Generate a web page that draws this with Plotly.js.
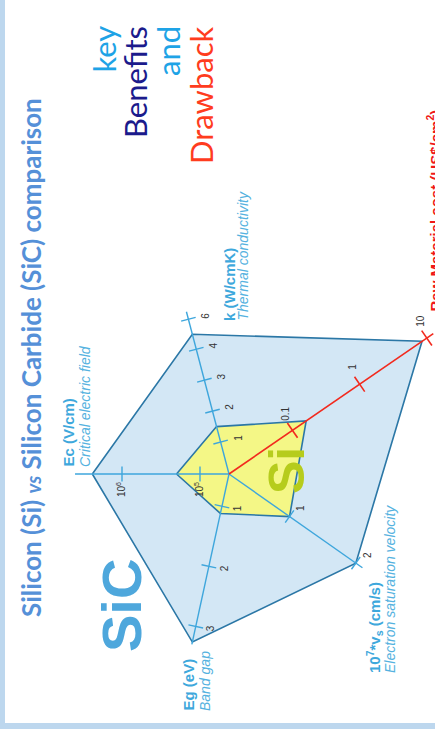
<!DOCTYPE html>
<html><head><meta charset="utf-8">
<script src="https://cdn.plot.ly/plotly-3.0.1.min.js"></script>
<style>html,body{margin:0;padding:0;background:#fff}#chart{width:435px;height:729px}</style>
</head><body><div id="chart"></div>
<script>
// ---------------- data ----------------
const axisNames = ['Ec (V/cm)', 'k (W/cmK)', 'Raw Material cost (US$/cm<sup>2</sup>)', '10<sup>7</sup>*v<sub>s</sub> (cm/s)', 'Eg (eV)'];
const axisDescriptions = ['Critical electric field', 'Thermal conductivity', '', 'Electron saturation velocity', 'Band gap'];
const sicValues = [2.4e6, 5.0, 8.5, 2.0, 3.26];
const siValues  = [2.0e5, 1.5, 0.16, 1.0, 1.12];
const axisMax   = [4e6, 6.5, 12.5, 2.1, 3.3];
const ecTicks = [1e5, 1e6];
const ecTickLabels = ['10<sup>5</sup>', '10<sup>6</sup>'];
const kTicks = [1, 2, 3, 4, 6];
const kTickLabels = ['1', '2', '3', '4', '6'];
const costTicks = [0.1, 1, 10];
const costTickLabels = ['0.1', '1', '10'];
const vsTicks = [1, 2];
const vsTickLabels = ['1', '2'];
const egTicks = [1, 2, 3];
const egTickLabels = ['1', '2', '3'];

// ---------------- radar geometry (layout) ----------------
const W = 435, H = 729;
const hubX = 229, hubY = 474;
const axisAngle = [180, 104.7, 34.5, -35.1, -102.3];
const axisScale = [
  {type: 'log',    domain: [1e5, 1e6],  range: [29, 107]},
  {type: 'linear', domain: [0, 4, 6],   range: [1, 129, 160]},
  {type: 'log',    domain: [0.1, 10],   range: [77, 240]},
  {type: 'linear', domain: [1, 2],      range: [74, 155]},
  {type: 'linear', domain: [1, 3],      range: [33, 156]}
];
function radius(i, v) {
  const s = axisScale[i];
  const f = s.type === 'log' ? Math.log10 : (z => z);
  const d = s.domain.map(f), x = f(v);
  let j = 0;
  while (j < d.length - 2 && x > d[j + 1]) j++;
  return s.range[j] + (x - d[j]) * (s.range[j + 1] - s.range[j]) / (d[j + 1] - d[j]);
}
function point(i, v) {
  const r = radius(i, v), a = axisAngle[i] * Math.PI / 180;
  return [r * Math.cos(a), r * Math.sin(a)];
}
function polygon(vals) {
  const xs = [], ys = [];
  vals.forEach((v, i) => { const p = point(i, v); xs.push(p[0]); ys.push(p[1]); });
  xs.push(xs[0]); ys.push(ys[0]);
  return {x: xs, y: ys};
}

const BLUE_EDGE = '#2b77a6', SPOKE = '#3ea6dc', RED = '#f22a1e';
const traces = [];
const sic = polygon(sicValues), si = polygon(siValues);
traces.push({type: 'scatter', mode: 'lines', x: sic.x, y: sic.y, fill: 'toself', fillcolor: '#d3e7f5',
  line: {color: BLUE_EDGE, width: 1.6}, hoverinfo: 'skip', name: 'SiC'});
traces.push({type: 'scatter', mode: 'lines', x: si.x, y: si.y, fill: 'toself', fillcolor: '#f4f786',
  line: {color: BLUE_EDGE, width: 1.6}, hoverinfo: 'skip', name: 'Si'});

// spokes
const sx = [], sy = [];
[0, 1, 3, 4].forEach(i => { const p = point(i, axisMax[i]); sx.push(0, p[0], null); sy.push(0, p[1], null); });
traces.push({type: 'scatter', mode: 'lines', x: sx, y: sy, line: {color: SPOKE, width: 1.4}, hoverinfo: 'skip'});
const pr = point(2, axisMax[2]);
traces.push({type: 'scatter', mode: 'lines', x: [0, pr[0]], y: [0, pr[1]], line: {color: RED, width: 1.6}, hoverinfo: 'skip'});

// ticks
const tickSets = [ecTicks, kTicks, costTicks, vsTicks, egTicks];
const tickLabelSets = [ecTickLabels, kTickLabels, costTickLabels, vsTickLabels, egTickLabels];
const tickShift = [[-1, -16], [17, 4], [-7, 17], [11, 8], [15, -2]];
const annotations = [];
function tickSegs(idxs, half) {
  const tx = [], ty = [];
  idxs.forEach(i => {
    const a = axisAngle[i] * Math.PI / 180, nx = -Math.sin(a), ny = Math.cos(a);
    tickSets[i].forEach(v => {
      const p = point(i, v);
      tx.push(p[0] - half * nx, p[0] + half * nx, null);
      ty.push(p[1] - half * ny, p[1] + half * ny, null);
    });
  });
  return {x: tx, y: ty};
}
const tb = tickSegs([0, 1, 3, 4], 7.5);
traces.push({type: 'scatter', mode: 'lines', x: tb.x, y: tb.y, line: {color: SPOKE, width: 1.4}, hoverinfo: 'skip'});
const tr = tickSegs([2], 9);
traces.push({type: 'scatter', mode: 'lines', x: tr.x, y: tr.y, line: {color: RED, width: 1.6}, hoverinfo: 'skip'});

tickSets.forEach((ticks, i) => {
  ticks.forEach((v, k) => {
    const p = point(i, v);
    annotations.push({x: p[0], y: p[1], xref: 'x', yref: 'y', text: tickLabelSets[i][k], showarrow: false,
      textangle: -90, xshift: tickShift[i][0], yshift: tickShift[i][1],
      font: {family: 'Liberation Sans, Arial, sans-serif', size: 10, color: '#333'}});
  });
});

// static text (paper coordinates)
const P = x => x / W, Q = y => 1 - y / H;
const LAB = 'Liberation Sans, Arial, sans-serif';
function rot(x, y, text, font, xa, ya) {
  annotations.push({x: P(x), y: Q(y), xref: 'paper', yref: 'paper', text: text, showarrow: false,
    textangle: -90, xanchor: xa, yanchor: ya, font: font, borderpad: 0});
}
rot(31, 358, '<b>Silicon (Si) <span style="font-size:20px"><i>vs</i></span> Silicon Carbide (SiC) comparison</b>',
  {family: 'Lato, Calibri, sans-serif', size: 26, color: '#5590d8'}, 'center', 'middle');
rot(103, 25, 'key', {family: 'Lato, sans-serif', size: 31, color: '#1ea3e6'}, 'center', 'top');
rot(135, 25, 'Benefits', {family: 'Lato, sans-serif', size: 31, color: '#1b1b8c'}, 'center', 'top');
rot(168, 25, 'and', {family: 'Lato, sans-serif', size: 31, color: '#1ea3e6'}, 'center', 'top');
rot(201, 25, 'Drawback', {family: 'Lato, sans-serif', size: 31, color: '#ff3c1e'}, 'center', 'top');

const LBLUE = '#3ea8dc', LBLUE2 = '#55b2e0';
const labelPos = [[58, 76, 468], [220, 233, 322], [423, 0, 313], [363, 381, 674], [178, 196, 712]];
axisNames.forEach((name, i) => {
  const c = i === 2 ? '#f01818' : LBLUE;
  rot(labelPos[i][0], labelPos[i][2], '<b>' + name + '</b>', {family: LAB, size: 15, color: c}, 'left', 'bottom');
  if (axisDescriptions[i]) rot(labelPos[i][1], labelPos[i][2], '<i>' + axisDescriptions[i] + '</i>', {family: LAB, size: 14, color: LBLUE2}, 'left', 'bottom');
});

rot(121, 605, '<b>SiC</b>', {family: LAB, size: 56, color: '#4ea7dc'}, 'center', 'middle');
rot(287, 471, '<b>Si</b>', {family: LAB, size: 50, color: '#b6cc1c'}, 'center', 'middle');

const layout = {
  width: W, height: H, margin: {l: 0, r: 0, t: 0, b: 0},
  paper_bgcolor: '#ffffff', plot_bgcolor: '#ffffff', showlegend: false,
  xaxis: {range: [-hubX, W - hubX], visible: false, fixedrange: true},
  yaxis: {range: [hubY - H, hubY], visible: false, fixedrange: true},
  annotations: annotations,
  shapes: [
    {type: 'rect', xref: 'paper', yref: 'paper', x0: 0, x1: 5 / W, y0: 0, y1: 1, fillcolor: '#bdd7ee', line: {width: 0}},
    {type: 'rect', xref: 'paper', yref: 'paper', x0: 0, x1: 1, y0: 0, y1: 6 / H, fillcolor: '#bdd7ee', line: {width: 0}}
  ]
};
Plotly.newPlot('chart', traces, layout, {displayModeBar: false, staticPlot: true});
</script></body></html>
